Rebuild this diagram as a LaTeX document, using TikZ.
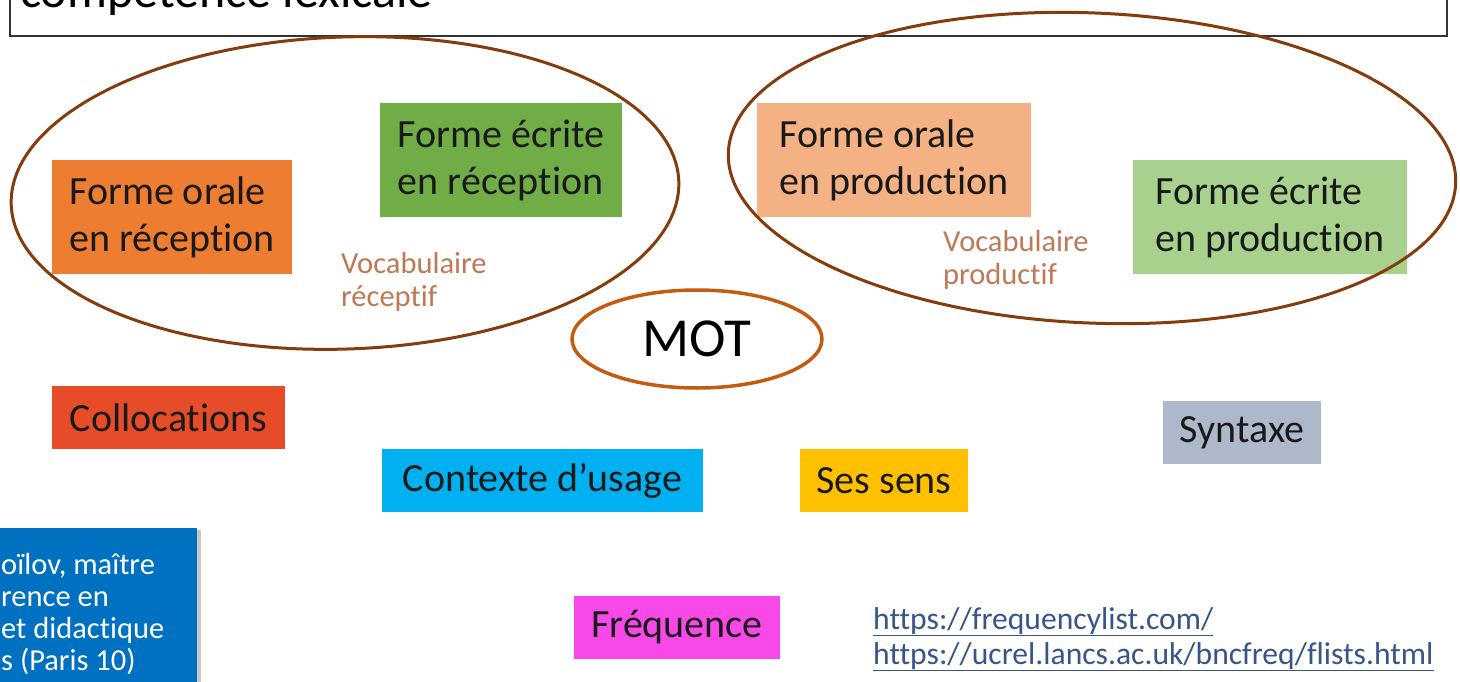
\documentclass[tikz,border=0pt]{standalone}
\usepackage{fontspec}
\setmainfont{Carlito}[Ligatures=NoCommon]
\usetikzlibrary{shapes.geometric,shadows}

\definecolor{orangeA}{RGB}{237,125,49}
\definecolor{greenA}{RGB}{112,173,71}
\definecolor{orangeL}{RGB}{244,177,131}
\definecolor{greenL}{RGB}{169,209,142}
\definecolor{collocC}{RGB}{231,76,40}
\definecolor{cyanC}{RGB}{0,176,240}
\definecolor{goldC}{RGB}{255,192,0}
\definecolor{grayC}{RGB}{173,185,202}
\definecolor{magC}{RGB}{248,72,232}
\definecolor{blueC}{RGB}{0,112,192}
\definecolor{brownD}{RGB}{132,60,12}
\definecolor{motC}{RGB}{197,90,17}
\definecolor{vocabC}{RGB}{190,120,85}
\definecolor{linkC}{RGB}{55,85,135}

\begin{document}
\begin{tikzpicture}[
        x=1pt, y=-1pt,
        font=\fontsize{40}{47}\selectfont
    ]
    \tikzset{
        bigbox/.style = {inner sep=0pt, align=left, minimum height=114pt, text=black!90},
        smallbox/.style = {inner sep=0pt, minimum height=63pt, text=black!90},
        vocab/.style = {inner sep=0pt, anchor=north west, align=left, text=vocabC, font=\fontsize{30.5}{33}\selectfont},
        ring/.style = {draw=brownD, line width=3pt},
    }
    \useasboundingbox (0,0) rectangle (1460,682);
    \clip (0,0) rectangle (1460,682);
    % title
    \draw[line width=1.6pt, draw=black!80, fill=white] (10,-60) rectangle (1447,36);
    \node[anchor=base west, inner sep=0pt, font=\fontsize{50}{60}\selectfont] at (20,8) (titre) {compétence lexicale};
    %
    \node[bigbox, fill=orangeA, minimum width=240pt] at (172,217) (orrec) {Forme orale\\en réception};
    \node[bigbox, fill=greenA, minimum width=242pt] at (501,160) (ecrec) {Forme écrite\\en réception};
    \node[bigbox, fill=orangeL, minimum width=274pt] at (894,160) (orprod) {Forme orale\\en production};
    \node[bigbox, fill=greenL, minimum width=274pt] at (1270,217) (ecprod) {Forme écrite\\en production};
    %
    \node[vocab] at (341,252) (vocrec) {Vocabulaire\\réceptif};
    \node[vocab] at (943,230) (vocprod) {Vocabulaire\\productif};
    %
    \draw[ring, rotate around={2:(345,193)}] (345,193) ellipse (334 and 156);
    \draw[ring, rotate around={-2.5:(1092,168)}] (1092,168) ellipse (364 and 155);
    \node[ellipse, draw=motC, line width=3.5pt, minimum width=250pt, minimum height=98pt,
          font=\fontsize{55}{60}\selectfont] at (697,339) (mot) {MOT};
    %
    \node[smallbox, fill=collocC, minimum width=233pt] at (168.5,417.5) (colloc) {Collocations};
    \node[smallbox, fill=cyanC, minimum width=321pt] at (542.5,480.5) (contexte) {Contexte d’usage};
    \node[smallbox, fill=goldC, minimum width=168pt] at (884,480.5) (sens) {Ses sens};
    \node[smallbox, fill=grayC, minimum width=158pt] at (1242,432.5) (syntaxe) {Syntaxe};
    \node[smallbox, fill=magC, minimum width=206pt] at (677,627.5) (freq) {Fréquence};
    %
    \node[inner sep=0pt, anchor=north west, align=left, text=linkC,
          font=\fontsize{31.6}{35}\selectfont] at (873,607) (liens)
          {\underline{https://frequencylist.com/}\\\underline{https://ucrel.lancs.ac.uk/bncfreq/flists.html}};
    %
    \node[fill=blueC, inner sep=0pt, minimum width=260pt, minimum height=200pt, anchor=north east,
          drop shadow={shadow xshift=4pt, shadow yshift=-2pt, opacity=0.45}] at (197,528) (auteur) {};
    \node[inner sep=0pt, anchor=north west, align=left, text=white,
          font=\fontsize{30.5}{32}\selectfont] at (1,553) (auteurtxt)
          {oïlov, maître\\rence en\\et didactique\\s (Paris 10)};
\end{tikzpicture}
\end{document}
